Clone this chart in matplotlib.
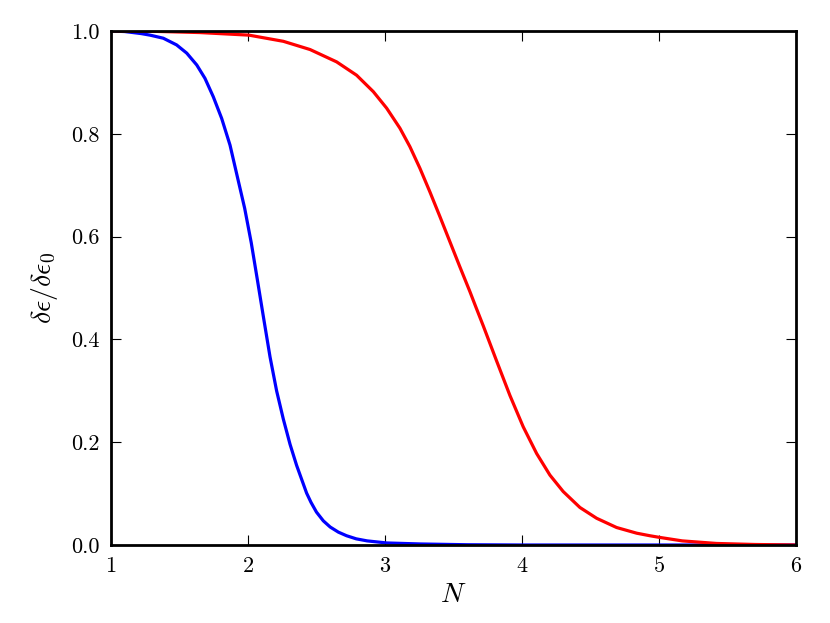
import numpy as np
import matplotlib
matplotlib.use('Agg')
import matplotlib.pyplot as plt

plt.rcParams['font.family'] = 'serif'
plt.rcParams['font.serif'] = ['cmr10', 'DejaVu Serif']
plt.rcParams['mathtext.fontset'] = 'cm'
plt.rcParams['axes.formatter.use_mathtext'] = True

# values
n_blue = [1.0, 1.1, 1.221, 1.285, 1.382, 1.479, 1.553, 1.626, 1.686, 1.747, 1.808,
          1.869, 1.922, 1.976, 2.024, 2.068, 2.112, 2.161, 2.209, 2.258, 2.307, 2.355,
          2.428, 2.46, 2.5, 2.55, 2.6, 2.66, 2.72, 2.79, 2.87, 3.012, 3.26, 3.6, 4.0, 6.0]
d_blue = [1.0, 0.999, 0.995, 0.992, 0.986, 0.973, 0.957, 0.934, 0.908, 0.872, 0.830,
          0.778, 0.717, 0.655, 0.588, 0.517, 0.445, 0.366, 0.300, 0.245, 0.196, 0.155,
          0.101, 0.083, 0.064, 0.047, 0.035, 0.025, 0.018, 0.012, 0.008, 0.004, 0.002,
          0.0005, 0.0, 0.0]

n_red = [1.0, 1.3, 1.65, 2.007, 2.258, 2.453, 2.647, 2.793, 2.915, 3.012, 3.109, 3.182,
         3.255, 3.328, 3.401, 3.474, 3.547, 3.620, 3.662, 3.718, 3.815, 3.912, 4.009,
         4.107, 4.204, 4.301, 4.423, 4.545, 4.691, 4.837, 4.934, 5.0, 5.17, 5.42, 5.7, 6.0]
d_red = [1.0, 0.9995, 0.997, 0.992, 0.980, 0.964, 0.940, 0.914, 0.882, 0.850, 0.811, 0.775,
         0.733, 0.687, 0.639, 0.590, 0.541, 0.493, 0.464, 0.426, 0.358, 0.291, 0.230,
         0.178, 0.136, 0.104, 0.073, 0.052, 0.034, 0.023, 0.018, 0.015, 0.008, 0.003,
         0.001, 0.0]

xticks = [1, 2, 3, 4, 5, 6]
yticks = [0.0, 0.2, 0.4, 0.6, 0.8, 1.0]

fig = plt.figure(figsize=(8.3, 6.23), dpi=100)
ax = fig.add_axes([0.1337, 0.1252, 0.8253, 0.8250])

ax.plot(n_blue, d_blue, color='blue', lw=2.3)
ax.plot(n_red, d_red, color='red', lw=2.3)

ax.set_xlim(1, 6)
ax.set_ylim(0, 1)
ax.set_xticks(xticks)
ax.set_yticks(yticks)
ax.set_xticklabels([str(t) for t in xticks])
ax.set_yticklabels(['%.1f' % t for t in yticks])
ax.tick_params(direction='in', length=7, width=0.8, top=True, right=True,
               labelsize=16, pad=8)
for s in ax.spines.values():
    s.set_linewidth(2)

ax.set_xlabel(r'$N$', fontsize=20, labelpad=4)
ax.set_ylabel(r'$\delta\epsilon/\delta\epsilon_0$', fontsize=20, labelpad=8)

fig.savefig('out.png', dpi=100)
